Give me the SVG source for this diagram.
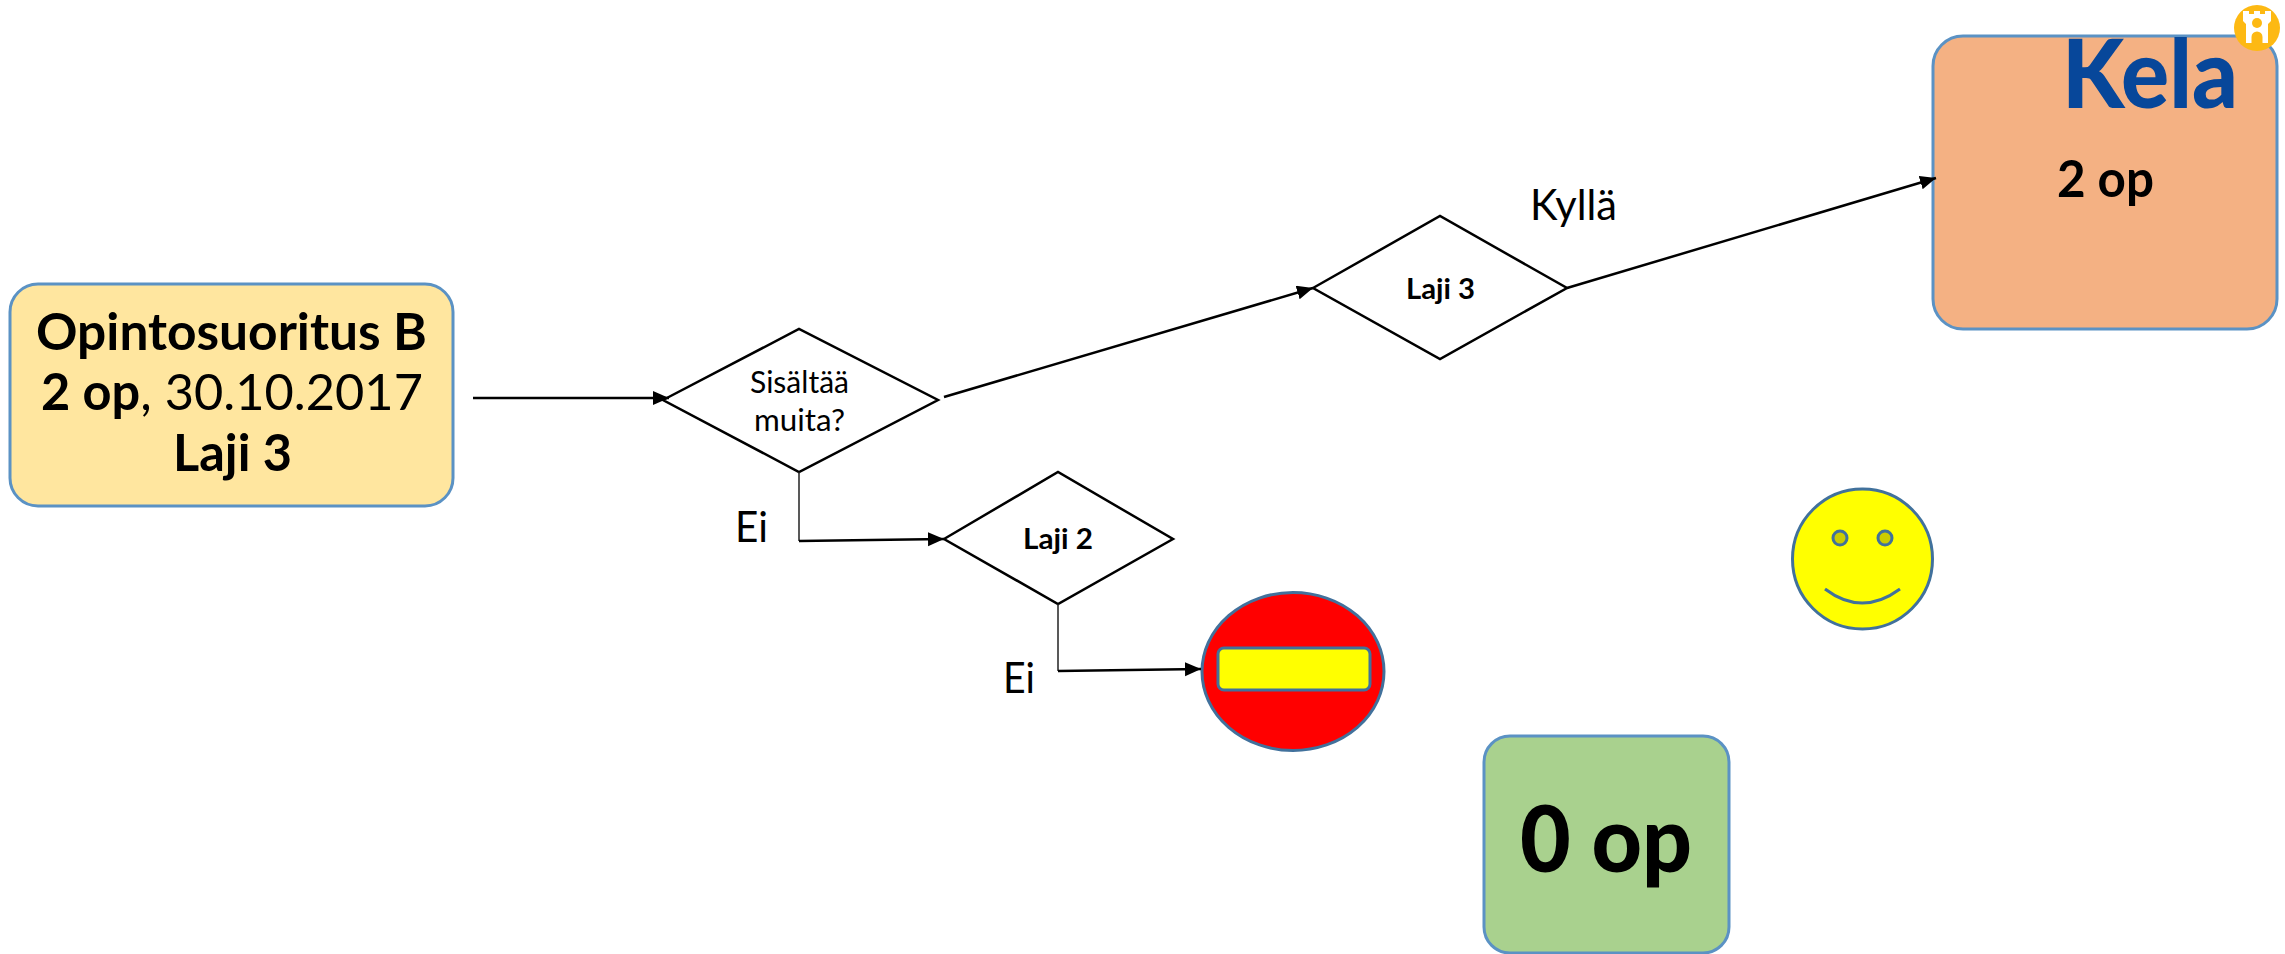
<svg xmlns="http://www.w3.org/2000/svg" width="2285" height="954" viewBox="0 0 2285 954">
<defs>
<marker id="arr" markerUnits="userSpaceOnUse" markerWidth="18" markerHeight="16" refX="16" refY="7" orient="auto"><path d="M0,0 L16,7 L0,14 Z" fill="#000"/></marker>
</defs>
<style>
text{font-family:"Lato","Carlito","Liberation Sans",sans-serif;fill:#000}
.b{font-weight:700}
.h{font-weight:900}
.box{stroke:#5B92C4;stroke-width:3}
.dia{fill:#fff;stroke:#000;stroke-width:2.5}
.sym{stroke:#41719C;stroke-width:3}
.con{fill:none;stroke:#000;stroke-width:2.5}
.thin{fill:none;stroke:#222;stroke-width:1.5}
</style>
<rect width="2285" height="954" fill="#fff"/>
<g id="n-opintosuoritus">
<rect class="box" x="10" y="284" width="443" height="222" rx="28" fill="#FFE69F"/>
<text class="b" x="36" y="350" font-size="51" textLength="391" lengthAdjust="spacingAndGlyphs">Opintosuoritus B</text>
<text x="41" y="410" font-size="51" textLength="382" lengthAdjust="spacingAndGlyphs"><tspan class="b">2 op</tspan>, 30.10.2017</text>
<text class="b" x="173" y="471" font-size="51" textLength="119" lengthAdjust="spacingAndGlyphs">Laji 3</text>
</g>
<g id="n-sisaltaa">
<polygon class="dia" points="663,400 799,329 938,400 799,472"/>
<text x="750" y="393" font-size="30" textLength="99" lengthAdjust="spacingAndGlyphs">Sisältää</text>
<text x="754" y="431" font-size="30" textLength="91" lengthAdjust="spacingAndGlyphs">muita?</text>
</g>
<g id="n-laji2">
<polygon class="dia" points="944,539 1058,472 1173,539 1058,604"/>
<text class="b" x="1023" y="549" font-size="28" textLength="70" lengthAdjust="spacingAndGlyphs">Laji 2</text>
</g>
<g id="n-laji3">
<polygon class="dia" points="1313,288 1440,216 1567,288 1440,359"/>
<text class="b" x="1406" y="299" font-size="28" textLength="69" lengthAdjust="spacingAndGlyphs">Laji 3</text>
</g>
<g id="n-kela">
<rect class="box" x="1933" y="36" width="344" height="293" rx="30" fill="#F4B183"/>
<text class="h" x="2062" y="108" font-size="96" style="fill:#07479A" textLength="176" lengthAdjust="spacingAndGlyphs">Kela</text>
<text class="b" x="2057" y="197" font-size="51" textLength="97" lengthAdjust="spacingAndGlyphs">2 op</text>
<circle cx="2257" cy="28" r="23" fill="#FDB913"/>
<path d="M2243,11 h6 v3 h5 v-3 h6 v3 h5 v-3 h6 v10 l-3,3 v19 h-5.500 v-6 a5.500,5.500 0 0 0 -11,0 v6 h-5.500 v-19 l-3,-3 Z" fill="#fff"/>
<circle cx="2257" cy="23" r="5" fill="#FDB913"/>
</g>
<g id="n-noentry">
<ellipse class="sym" cx="1293" cy="671.5" rx="91" ry="79" fill="#FF0000"/>
<rect class="sym" x="1218" y="648" width="152" height="42" rx="6" fill="#FFFF00"/>
</g>
<g id="n-smiley">
<circle class="sym" cx="1862.500" cy="559" r="70" fill="#FFFF00"/>
<circle class="sym" cx="1840" cy="538" r="7" fill="#CCCC00" stroke-width="2.500"/>
<circle class="sym" cx="1885" cy="538" r="7" fill="#CCCC00" stroke-width="2.500"/>
<path class="sym" d="M1825,589 Q1862,617 1900,589" fill="none"/>
</g>
<g id="n-zero">
<rect class="box" x="1484" y="736" width="245" height="217" rx="26" fill="#A9D18E"/>
<text class="h" x="1520" y="872" font-size="92" textLength="172" lengthAdjust="spacingAndGlyphs">0 op</text>
</g>
<g id="connectors">
<path class="con" d="M473,398 L669,398" marker-end="url(#arr)"/>
<path class="con" d="M944,397 L1313,288" marker-end="url(#arr)"/>
<path class="con" d="M1567,288 L1936,178" marker-end="url(#arr)"/>
<path class="thin" d="M799,472 V541"/>
<path class="con" d="M799,541 L944,539" marker-end="url(#arr)"/>
<path class="thin" d="M1058,604 V671"/>
<path class="con" d="M1058,671 L1201,669" marker-end="url(#arr)"/>
</g>
<g id="labels">
<text x="735" y="542" font-size="43" textLength="33" lengthAdjust="spacingAndGlyphs">Ei</text>
<text x="1003" y="693" font-size="43" textLength="32" lengthAdjust="spacingAndGlyphs">Ei</text>
<text x="1530" y="220" font-size="43" textLength="87" lengthAdjust="spacingAndGlyphs">Kyllä</text>
</g>
</svg>
